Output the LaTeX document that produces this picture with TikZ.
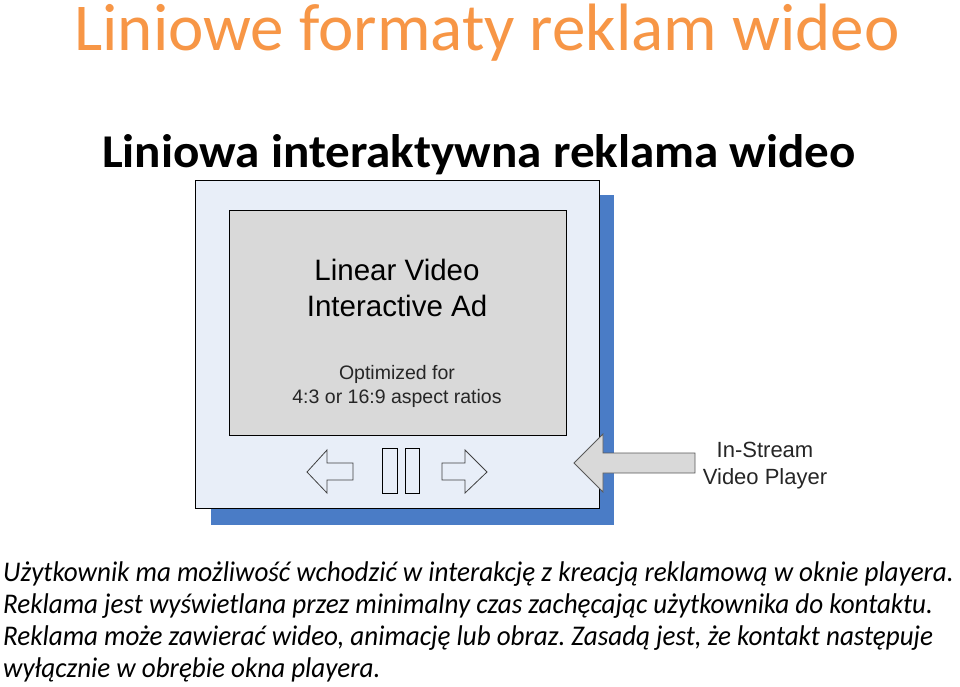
\documentclass[tikz,border=0pt]{standalone}
\usepackage{fontspec}
\setmainfont{Carlito}
\newfontfamily\arialf{Liberation Sans}
\definecolor{titleorange}{HTML}{F79646}
\definecolor{playerbg}{HTML}{E8EEF8}
\definecolor{shadowblue}{HTML}{4A7CC6}
\definecolor{screengray}{HTML}{D9D9D9}
\definecolor{ctrlstroke}{HTML}{404040}
\frenchspacing
\newcommand{\bodyline}[1]{\scalebox{0.95}[1]{#1}}
\begin{document}
\begin{tikzpicture}[x=1pt,y=-1pt,
  txt/.style={inner sep=0pt,anchor=base},
  ctrl/.style={draw=ctrlstroke,fill=playerbg,line width=0.8pt,line join=miter},
  body/.style={txt,anchor=base west,font=\itshape\fontsize{28.5}{28.5}\selectfont}]
\useasboundingbox[fill=white] (0,0) rectangle (960,686);
% title and subtitle
\node[txt,text=titleorange,font=\fontsize{67}{67}\selectfont] (title) at (487,50) {Liniowe formaty reklam wideo};
\node[txt,font=\bfseries\fontsize{47}{47}\selectfont] (sub) at (479,167) {\scalebox{1.045}[1]{Liniowa interaktywna reklama wideo}};
% player
\fill[shadowblue] (211,195) rectangle (614,525);
\draw[fill=playerbg,line width=0.8pt] (195,180) rectangle (599,508);
\draw[fill=screengray,line width=0.8pt] (229,210) rectangle (566,435);
\node[txt,font=\arialf\fontsize{29.5}{29.5}\selectfont] (l1) at (397,280) {Linear Video};
\node[txt,font=\arialf\fontsize{29.5}{29.5}\selectfont] (l2) at (397,316) {Interactive Ad};
\node[txt,font=\arialf\fontsize{19.5}{19.5}\selectfont,text=black!85] (o1) at (397,379) {Optimized for};
\node[txt,font=\arialf\fontsize{19.5}{19.5}\selectfont,text=black!85] (o2) at (397,403) {4:3 or 16:9 aspect ratios};
% controls
\draw[ctrl] (307,472) -- (327,450) -- (327,463) -- (353,463) -- (353,480) -- (327,480) -- (327,493) -- cycle;
\draw[ctrl,draw=black] (382,448) rectangle (397,493);
\draw[ctrl,draw=black] (405,448) rectangle (419,493);
\draw[ctrl] (487,472) -- (465,450) -- (465,463) -- (442,463) -- (442,480) -- (465,480) -- (465,493) -- cycle;
% pointer arrow
\draw[fill=screengray,draw=black!65,line width=0.8pt] (574,463) -- (603,434) -- (603,453) -- (695,453) -- (695,473) -- (603,473) -- (603,492) -- cycle;
\node[txt,font=\arialf\fontsize{22}{22}\selectfont,text=black!85] (p1) at (765,457) {In-Stream};
\node[txt,font=\arialf\fontsize{22}{22}\selectfont,text=black!85] (p2) at (765,484) {Video Player};
% body text
\node[body] (b1) at (3,581) {\bodyline{Użytkownik ma możliwość wchodzić w interakcję z kreacją reklamową w oknie playera.}};
\node[body] (b2) at (3,613) {\bodyline{Reklama jest wyświetlana przez minimalny czas zachęcając użytkownika do kontaktu.}};
\node[body] (b3) at (3,645) {\bodyline{Reklama może zawierać wideo, animację lub obraz. Zasadą jest, że kontakt następuje}};
\node[body] (b4) at (3,677) {\bodyline{wyłącznie w obrębie okna playera.}};
\end{tikzpicture}
\end{document}
